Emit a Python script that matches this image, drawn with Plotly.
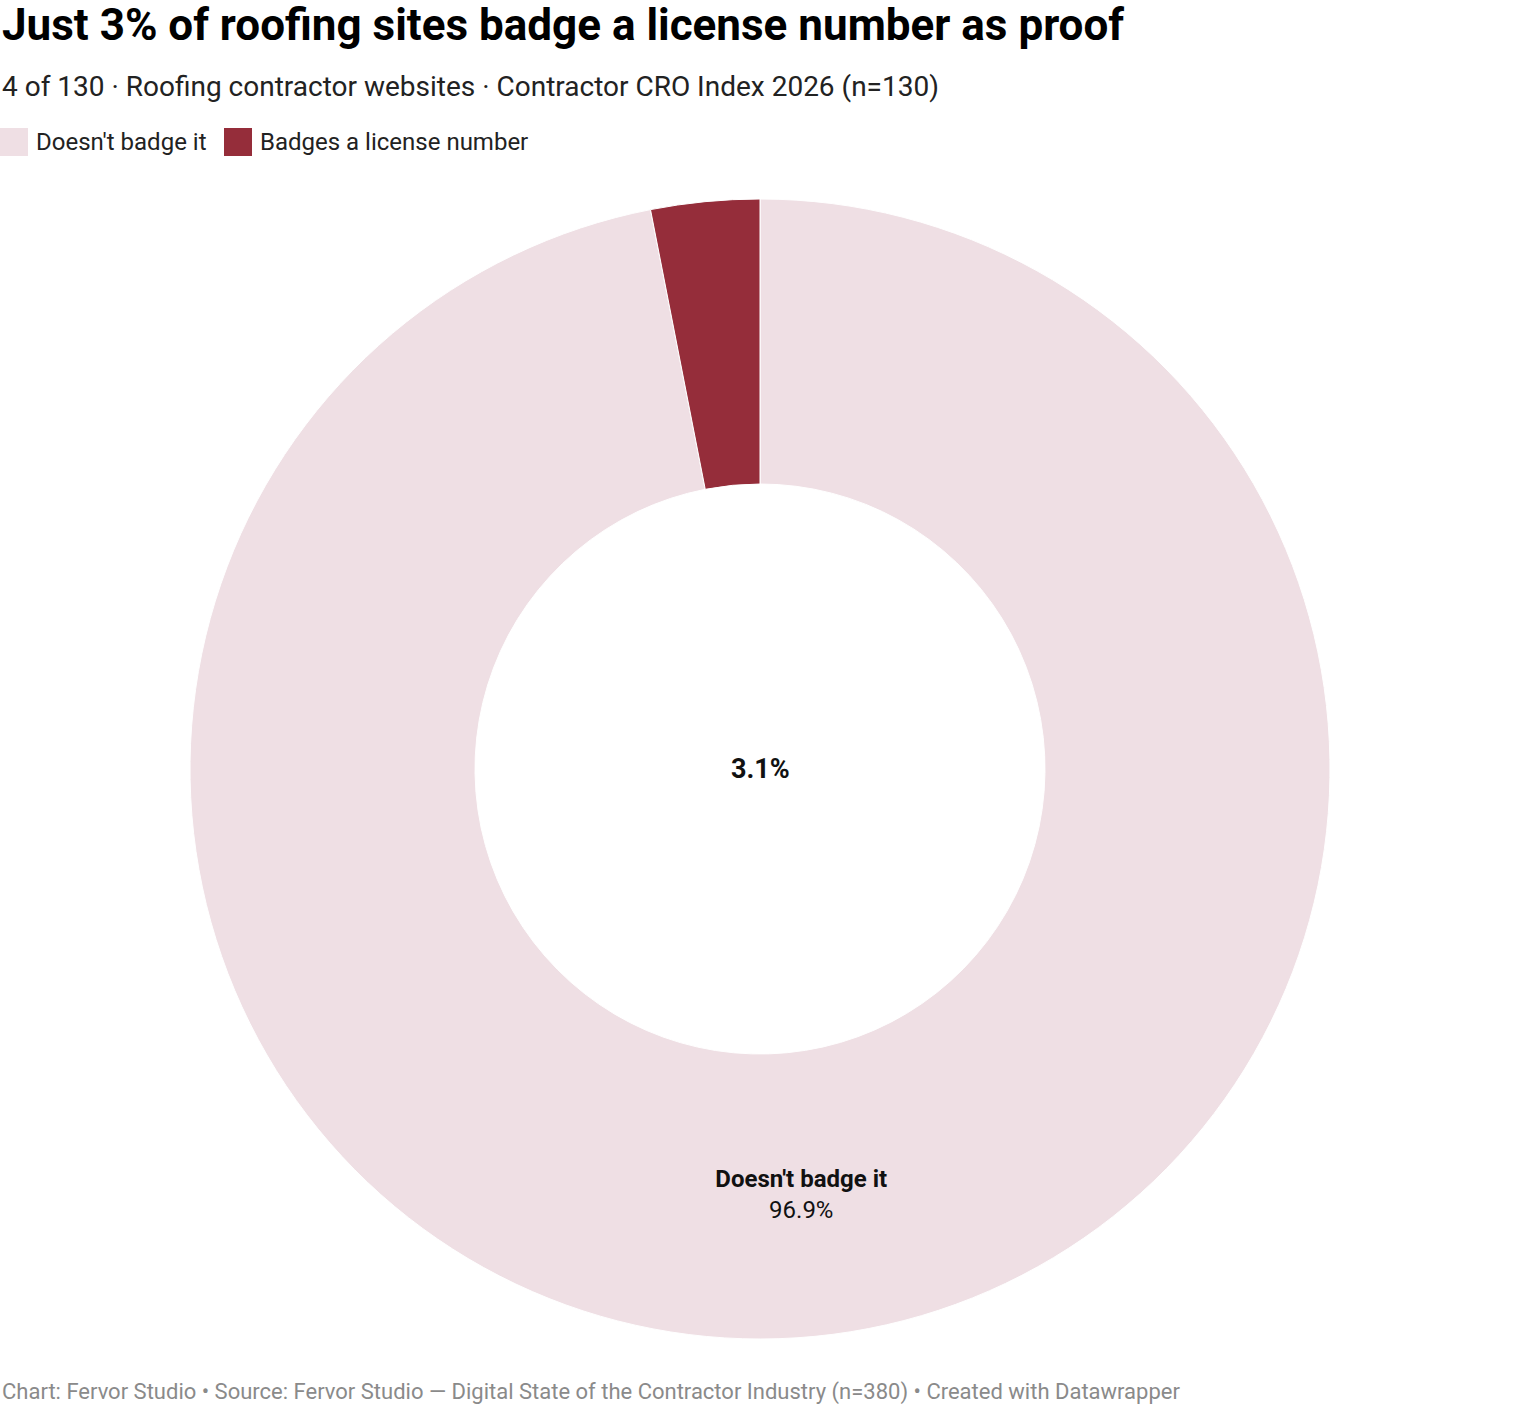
import plotly.graph_objects as go

# survey counts (n=130)
labels = ["Doesn't badge it", "Badges a license number"]
counts = [126, 4]
colors = ["#efdfe4", "#952d3a"]

total = sum(counts)
shares = [c / total * 100 for c in counts]
slice_text = [f"<b>{labels[0]}</b><br>{shares[0]:.1f}%", ""]

title = "Just 3% of roofing sites badge a license number as proof"
subtitle = "4 of 130 · Roofing contractor websites · Contractor CRO Index 2026 (n=130)"
footer = ("Chart: Fervor Studio • Source: Fervor Studio — Digital State of the "
          "Contractor Industry (n=380) • Created with Datawrapper")

W, H = 1520, 1406

fig = go.Figure()
fig.add_trace(go.Pie(
    labels=labels, values=counts, sort=False,
    direction="clockwise", rotation=0, hole=0.5,
    marker=dict(colors=colors, line=dict(color="white", width=1)),
    text=slice_text, textinfo="text", textposition="inside",
    insidetextorientation="horizontal",
    textfont=dict(family="Roboto", size=24, color="#111111"),
    hoverinfo="label+value+percent",
    showlegend=False,
    domain=dict(x=[0, 1], y=[1 - 1339 / H, 1 - 199 / H]),
))

def py(px):
    return 1 - px / H

ann = [
    dict(text=f"<b>{title}</b>", x=0, y=py(25), xanchor="left", yanchor="middle",
         font=dict(family="Roboto", size=44, color="#000000")),
    dict(text=subtitle, x=0, y=py(87), xanchor="left", yanchor="middle",
         font=dict(family="Roboto", size=28, color="#222222")),
    dict(text=footer, x=0, y=py(1392), xanchor="left", yanchor="middle",
         font=dict(family="Roboto", size=22, color="#8a8a8a")),
    dict(text=f"<b>{shares[1]:.1f}%</b>", x=0.5, y=py(769), xanchor="center", yanchor="middle",
         font=dict(family="Roboto", size=27, color="#111111")),
]

# custom legend with square swatches
shapes = []
legend_x = [0, 224]
for i, lab in enumerate(labels):
    x0 = legend_x[i]
    shapes.append(dict(type="rect", xref="paper", yref="paper",
                       x0=x0 / W, x1=(x0 + 28) / W, y0=py(156), y1=py(128),
                       fillcolor=colors[i], line=dict(width=0)))
    ann.append(dict(text=lab, x=(x0 + 34) / W, y=py(142), xanchor="left", yanchor="middle",
                    font=dict(family="Roboto", size=24, color="#222222")))

for a in ann:
    a.update(xref="paper", yref="paper", showarrow=False)

fig.update_layout(
    width=W, height=H,
    margin=dict(l=0, r=0, t=0, b=0),
    paper_bgcolor="white", plot_bgcolor="white",
    annotations=ann, shapes=shapes,
)

fig.write_html("out.html", config={"displayModeBar": False},
               post_script="document.body.style.margin='0';")
